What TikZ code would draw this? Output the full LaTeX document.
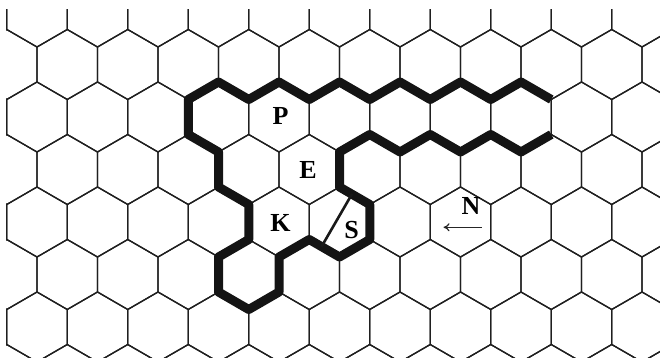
\documentclass[tikz,border=0pt]{standalone}
\usepackage{fontspec}
\setmainfont{Liberation Serif}
\usepackage{tikz}
\usetikzlibrary{arrows.meta}

\begin{document}
\begin{tikzpicture}[x=1pt,y=-1pt,
    cell/.style={draw=black!88, line width=1.3pt},
    border/.style={draw=black!92, line width=9pt, line join=round},
    divider/.style={draw=black!90, line width=2.6pt},
    letter/.style={font=\fontsize{26}{30}\selectfont\bfseries, inner sep=0pt},
    pointer/.style={-{Computer Modern Rightarrow[length=6pt,width=8pt]}, line width=1.2pt, draw=black!85}
  ]
    \useasboundingbox (0,0) rectangle (660,358);
    % hexagonal grid
    \begin{scope}
      \clip (6,10) rectangle (660,358);
      \foreach \r in {0,...,7}{
        \pgfmathsetmacro{\cy}{12+52.5*\r}
        \pgfmathsetmacro{\ox}{37-30.25*mod(\r,2)}
        \foreach \k in {-1,...,11}{
          \draw[cell] ({\ox+60.5*\k},\cy) +(0,-35) -- +(30.25,-17.5) -- +(30.25,17.5)
            -- +(0,35) -- +(-30.25,17.5) -- +(-30.25,-17.5) -- cycle;
        }
      }
    \end{scope}
    % outlined region
    \draw[border] (551.25,99.5) -- (521,82) -- (490.75,99.5) -- (460.5,82) -- (430.25,99.5)
      -- (400,82) -- (369.75,99.5) -- (339.5,82) -- (309.25,99.5) -- (279,82) -- (248.75,99.5)
      -- (218.5,82) -- (188.25,99.5) -- (188.25,134.5) -- (218.5,152) -- (218.5,187)
      -- (248.75,204.5) -- (248.75,239.5) -- (218.5,257) -- (218.5,292) -- (248.75,309.5)
      -- (279,292) -- (279,257) -- (309.25,239.5) -- (339.5,257) -- (369.75,239.5)
      -- (369.75,204.5) -- (339.5,187) -- (339.5,152) -- (369.75,134.5) -- (400,152)
      -- (430.25,134.5) -- (460.5,152) -- (490.75,134.5) -- (521,152) -- (551.25,134.5);
    \coordinate (cutTop) at (352,194);
    \coordinate (cutBot) at (321.5,246.7);
    \draw[divider] (cutTop) -- (cutBot);
    % labels
    \node[letter] (lblP) at (280.5,115.5) {P};
    \node[letter] (lblE) at (308,170) {E};
    \node[letter] (lblK) at (280.5,222.5) {K};
    \node[letter] (lblS) at (351.5,230) {S};
    \node[letter] (lblN) at (471,206) {N};
    \coordinate (nTail) at (481.5,227.3);
    \coordinate (nHead) at (443.5,227.3);
    \draw[pointer] (nTail) -- (nHead);
  \end{tikzpicture}
\end{document}
